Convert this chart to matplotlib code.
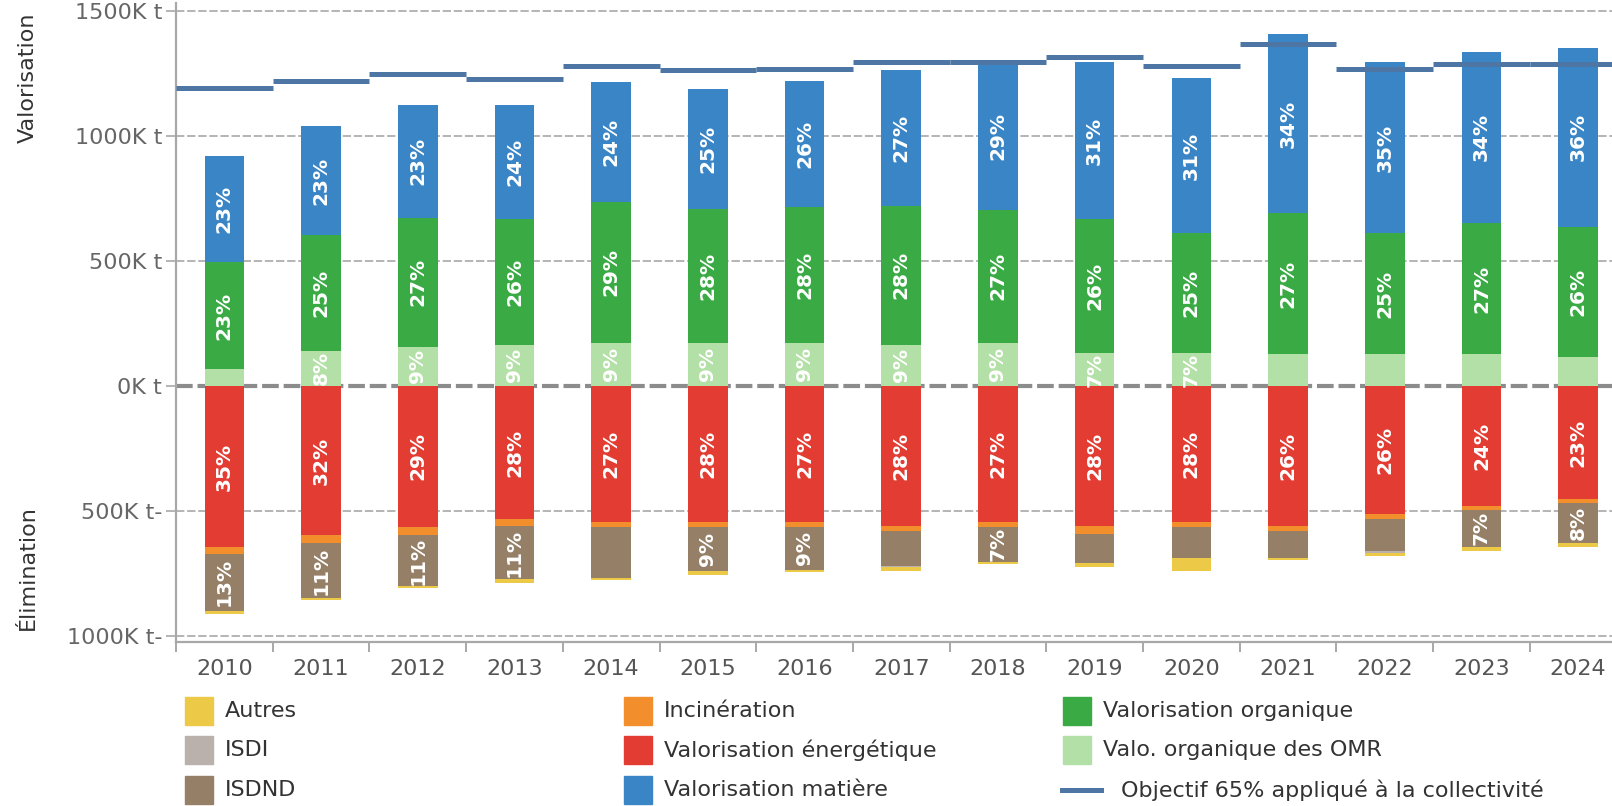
import numpy as np
import matplotlib
matplotlib.use("Agg")
import matplotlib.pyplot as plt
from matplotlib.patches import Rectangle
from matplotlib.lines import Line2D

plt.rcParams['font.family'] = ['DejaVu Sans']
plt.rcParams['lines.scale_dashes'] = False

years = ["2010", "2011", "2012", "2013", "2014", "2015", "2016", "2017",
         "2018", "2019", "2020", "2021", "2022", "2023", "2024"]

# valorisation (K t), stacked upwards
valo_omr = [68, 141, 157, 164, 173, 173, 173, 164, 173, 131, 132, 127, 127, 127, 116]
valo_org = [427, 463, 516, 504, 564, 534, 543, 557, 532, 537, 479, 564, 484, 526, 521]
valo_mat = [424, 436, 451, 456, 478, 482, 504, 542, 590, 627, 621, 716, 684, 684, 716]

# elimination (K t), stacked downwards
valo_energ = [645, 597, 564, 533, 545, 545, 545, 560, 545, 560, 545, 560, 512, 481, 453]
incineration = [26, 32, 33, 26, 19, 19, 19, 20, 19, 31, 19, 21, 21, 14, 16]
isdnd = [229, 220, 204, 214, 203, 177, 171, 139, 139, 118, 123, 107, 128, 149, 160]
isdi = [0, 0, 0, 0, 0, 0, 0, 4, 0, 0, 0, 0, 8, 0, 0]
autres = [13, 8, 8, 14, 10, 14, 10, 17, 9, 15, 53, 9, 12, 15, 14]

objectif = [1191, 1221, 1247, 1227, 1281, 1264, 1269, 1297, 1297, 1315, 1281, 1367, 1269, 1287, 1287]

# percentage labels shown on the bars
lbl_omr = ["", "8%", "9%", "9%", "9%", "9%", "9%", "9%", "9%", "7%", "7%", "", "", "", ""]
lbl_org = ["23%", "25%", "27%", "26%", "29%", "28%", "28%", "28%", "27%", "26%", "25%", "27%", "25%", "27%", "26%"]
lbl_mat = ["23%", "23%", "23%", "24%", "24%", "25%", "26%", "27%", "29%", "31%", "31%", "34%", "35%", "34%", "36%"]
lbl_energ = ["35%", "32%", "29%", "28%", "27%", "28%", "27%", "28%", "27%", "28%", "28%", "26%", "26%", "24%", "23%"]
lbl_isdnd = ["13%", "11%", "11%", "11%", "", "9%", "9%", "", "7%", "", "", "", "", "7%", "8%"]
no_lbl = [""] * len(years)

yticks = [-1000, -500, 0, 500, 1000, 1500]
ytick_labels = ["1000K t-", "500K t-", "0K t", "500K t", "1000K t", "1500K t"]

C_AUTRES = "#EDC948"
C_ISDI = "#BAB0AC"
C_ISDND = "#957F66"
C_INCIN = "#F28E2B"
C_ENERG = "#E23C33"
C_MAT = "#3A85C5"
C_ORG = "#3AAA45"
C_OMR = "#B3E0A6"
C_OBJ = "#4E76A5"

W, H = 1612, 806
fig = plt.figure(figsize=(W / 100, H / 100), dpi=100)
ax = fig.add_axes([176 / W, 1 - 642 / H, 15 * 96.7 / W, 639 / H])

x = np.arange(len(years))
bw = 0.41


def add_labels(bottom, vals, labels):
    for xi, b, v, t in zip(x, bottom, vals, labels):
        if t:
            ax.text(xi, b + v / 2, t, rotation=90, ha="center", va="center",
                    color="white", fontsize=14.5, fontweight="bold", zorder=5)


# positive stack
bottom = np.zeros(len(years))
for vals, col, lbl in [(valo_omr, C_OMR, lbl_omr), (valo_org, C_ORG, lbl_org),
                       (valo_mat, C_MAT, lbl_mat)]:
    vals = np.array(vals, dtype=float)
    ax.bar(x, vals, bw, bottom=bottom, color=col, zorder=3)
    add_labels(bottom, vals, lbl)
    bottom += vals

# negative stack
bottom = np.zeros(len(years))
for vals, col, lbl in [(valo_energ, C_ENERG, lbl_energ), (incineration, C_INCIN, no_lbl),
                       (isdnd, C_ISDND, lbl_isdnd), (isdi, C_ISDI, no_lbl),
                       (autres, C_AUTRES, no_lbl)]:
    vals = -np.array(vals, dtype=float)
    ax.bar(x, vals, bw, bottom=bottom, color=col, zorder=3)
    add_labels(bottom, vals, lbl)
    bottom += vals

# objective line per year
ax.hlines(objectif, x - 0.5, x + 0.5, color=C_OBJ, lw=3.6, zorder=4)

# grid
for yv in [500, 1000, 1500, -500, -1000]:
    ax.axhline(yv, color="#b4b4b4", lw=1.4, ls=(0, (6, 2)), zorder=1)
ax.axhline(0, color="#8c8c8c", lw=3, ls=(0, (12, 3.5)), zorder=2)

ax.set_xlim(-0.5, len(years) - 0.5)
ax.set_ylim(-1024, 1532)

ax.set_yticks(yticks)
ax.set_yticklabels(ytick_labels)
ax.set_xticks(x)
ax.set_xticklabels(years)
ax.set_xticks(np.arange(len(years) + 1) - 0.5, minor=True)

ax.tick_params(axis="y", length=7, width=1.2, color="#a8a8a8", pad=3,
               labelsize=16, labelcolor="#666666")
ax.tick_params(axis="x", which="major", length=0, pad=12,
               labelsize=16, labelcolor="#555555")
ax.tick_params(axis="x", which="minor", length=7, width=1.4, color="#a8a8a8")

for s in ["top", "right"]:
    ax.spines[s].set_visible(False)
for s in ["left", "bottom"]:
    ax.spines[s].set_color("#a8a8a8")
    ax.spines[s].set_linewidth(1.6)

fig.text(28 / W, 1 - 78 / H, "Valorisation", rotation=90, ha="center", va="center",
         fontsize=16, color="#333333")
fig.text(28 / W, 1 - 568 / H, "Élimination", rotation=90, ha="center", va="center",
         fontsize=16, color="#333333")

# legend, three columns
legend_items = [
    ("Autres", C_AUTRES), ("ISDI", C_ISDI), ("ISDND", C_ISDND),
    ("Incinération", C_INCIN), ("Valorisation énergétique", C_ENERG),
    ("Valorisation matière", C_MAT),
    ("Valorisation organique", C_ORG), ("Valo. organique des OMR", C_OMR),
    ("Objectif 65% appliqué à la collectivité", None),
]
col_x = [185, 624, 1063]
row_y = [711, 750, 790]
sq = 28
for i, (name, col) in enumerate(legend_items):
    cx = col_x[i // 3]
    cy = row_y[i % 3]
    if col is None:
        fig.add_artist(Line2D([(cx - 1) / W, (cx + 38) / W], [1 - cy / H, 1 - cy / H],
                              color=C_OBJ, lw=3.6, transform=fig.transFigure))
        tx = cx + 58
    else:
        fig.add_artist(Rectangle((cx / W, 1 - (cy + sq / 2) / H), sq / W, sq / H,
                                 color=col, transform=fig.transFigure))
        tx = cx + 40
    fig.text(tx / W, 1 - cy / H, name, ha="left", va="center", fontsize=16,
             color="#333333")

fig.savefig("out.png", dpi=100)
